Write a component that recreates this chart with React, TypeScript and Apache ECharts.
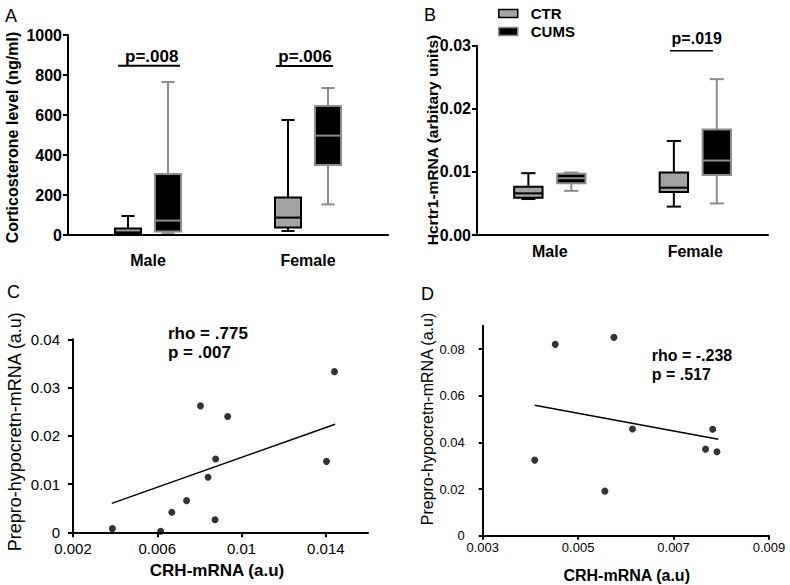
import React, { useEffect, useRef } from "react";
import * as echarts from "echarts";

const FONT = '"Liberation Sans", Arial, Helvetica, sans-serif';

// ---- Data ----
const groups = ["Male", "Female"];
// [min, q1, median, q3, max]
const cortCTR = [
  [2, 5, 13, 32, 95],
  [20, 37, 87, 187, 575],
];
const cortCUMS = [
  [10, 17, 72, 305, 765],
  [153, 350, 497, 645, 735],
];
const hcrtCTR = [
  [0.0057, 0.0059, 0.0066, 0.00765, 0.0098],
  [0.0045, 0.0068, 0.0075, 0.0099, 0.0149],
];
const hcrtCUMS = [
  [0.007, 0.0082, 0.009, 0.0097, 0.0099],
  [0.005, 0.0095, 0.0118, 0.0167, 0.0247],
];
const cortTicks = [0, 200, 400, 600, 800, 1000];
const hcrtTicks = [0, 0.01, 0.02, 0.03];

const cX = [0.00387, 0.00616, 0.00669, 0.00739, 0.00805, 0.00841, 0.00877, 0.00874, 0.00934, 0.01403, 0.01441];
const cY = [0.00076, 0.0002, 0.00415, 0.00656, 0.0262, 0.0114, 0.0152, 0.0026, 0.024, 0.0147, 0.0333];
const cFitX = [0.00384, 0.01444];
const cFitY = [0.006, 0.0224];
const cXTicks = [0.002, 0.006, 0.01, 0.014];
const cYTicks = [0, 0.01, 0.02, 0.03, 0.04];

const dX = [0.00409, 0.00452, 0.00575, 0.00556, 0.00614, 0.00782, 0.00767, 0.00791];
const dY = [0.0324, 0.082, 0.085, 0.0191, 0.0457, 0.0456, 0.0371, 0.036];
const dFitX = [0.00409, 0.00794];
const dFitY = [0.0559, 0.0413];
const dXTicks = [0.003, 0.005, 0.007, 0.009];
const dYTicks = [0, 0.02, 0.04, 0.06, 0.08];

const GRAY = "#a3a3a3";
const DGRAY = "#8c8c8c";

function boxRender(offsetFrac: number, widthFrac: number, fill: string, stroke: string) {
  return (params: any, api: any) => {
    const cat = api.value(0);
    const band = api.size([1, 0])[0];
    const cx = api.coord([cat, api.value(3)])[0] + offsetFrac * band;
    const hw = (widthFrac * band) / 2;
    const cap = hw * 0.5;
    const y = (k: number) => api.coord([cat, api.value(k)])[1];
    const yMin = y(1), yQ1 = y(2), yMed = y(3), yQ3 = y(4), yMax = y(5);
    const ls = { stroke, lineWidth: 2 };
    return {
      type: "group",
      children: [
        { type: "line", shape: { x1: cx, y1: yMax, x2: cx, y2: yQ3 }, style: ls },
        { type: "line", shape: { x1: cx, y1: yQ1, x2: cx, y2: yMin }, style: ls },
        { type: "line", shape: { x1: cx - cap, y1: yMax, x2: cx + cap, y2: yMax }, style: ls },
        { type: "line", shape: { x1: cx - cap, y1: yMin, x2: cx + cap, y2: yMin }, style: ls },
        { type: "rect", shape: { x: cx - hw, y: yQ3, width: 2 * hw, height: yQ1 - yQ3 }, style: { fill, stroke, lineWidth: 2 } },
        { type: "line", shape: { x1: cx - hw, y1: yMed, x2: cx + hw, y2: yMed }, style: ls },
      ],
    };
  };
}

function boxData(arr: number[][]) {
  return arr.map((v, i) => [i, ...v]);
}

const axisLineStyle = { lineStyle: { color: "#000", width: 2 } };

function txt(text: string, x: number, y: number, size: number, weight: string, opts: any = {}) {
  return {
    type: "text",
    x,
    y,
    rotation: opts.rotation || 0,
    style: {
      text,
      fill: "#000",
      fontSize: size,
      fontWeight: weight,
      fontFamily: FONT,
      align: opts.align || "center",
      verticalAlign: "middle",
    },
  };
}
function hline(x1: number, x2: number, y: number, w = 2) {
  return { type: "line", shape: { x1, y1: y, x2, y2: y }, style: { stroke: "#000", lineWidth: w } };
}

export default function App() {
  const ref = useRef<HTMLDivElement>(null);
  useEffect(() => {
    if (!ref.current) return;
    const chart = echarts.init(ref.current, undefined, { renderer: "svg" });
    const catAxis = (gi: number, size: number, margin: number) => ({
      type: "category",
      gridIndex: gi,
      data: groups,
      axisLine: axisLineStyle,
      axisTick: { alignWithLabel: true, length: 5, lineStyle: { width: 2, color: "#000" } },
      axisLabel: { fontFamily: FONT, fontWeight: "bold", fontSize: size, color: "#000", margin },
      splitLine: { show: false },
    });
    const option: any = {
      animation: false,
      backgroundColor: "#fff",
      grid: [
        { left: 68, top: 35, width: 320, height: 200 },
        { left: 477, top: 45.7, width: 291, height: 189.3 },
        { left: 73, top: 339.3, width: 295, height: 193 },
        { left: 482.7, top: 325.7, width: 286.3, height: 210 },
      ],
      legend: {
        left: 498,
        top: 6,
        orient: "vertical",
        padding: 0,
        itemWidth: 19,
        itemHeight: 8,
        itemGap: 3,
        selectedMode: false,
        textStyle: { fontFamily: FONT, fontWeight: "bold", fontSize: 15, color: "#000", lineHeight: 15, padding: [0, 0, 0, 8] },
        data: [
          { name: "CTR", icon: "rect", itemStyle: { color: GRAY, borderColor: "#000", borderWidth: 1.5 } },
          { name: "CUMS", icon: "rect", itemStyle: { color: "#000", borderColor: DGRAY, borderWidth: 1.5 } },
        ],
      },
      xAxis: [
        catAxis(0, 16, 17),
        catAxis(1, 16, 8),
        {
          type: "value",
          gridIndex: 2,
          min: 0.002,
          max: 0.016,
          axisLine: axisLineStyle,
          axisTick: { customValues: cXTicks, length: 5, lineStyle: { width: 2, color: "#000" } },
          axisLabel: { customValues: cXTicks, fontFamily: FONT, fontSize: 15, color: "#000", margin: 9 },
          splitLine: { show: false },
        },
        {
          type: "value",
          gridIndex: 3,
          min: 0.003,
          max: 0.009,
          axisLine: axisLineStyle,
          axisTick: { customValues: dXTicks, length: 4, lineStyle: { width: 2, color: "#000" } },
          axisLabel: { customValues: dXTicks, fontFamily: FONT, fontSize: 13, color: "#000", margin: 5 },
          splitLine: { show: false },
        },
      ],
      yAxis: [
        {
          type: "value",
          gridIndex: 0,
          min: 0,
          max: 1000,
          axisLine: { show: true, ...axisLineStyle },
          axisTick: { show: true, customValues: cortTicks, length: 5, lineStyle: { width: 2, color: "#000" } },
          axisLabel: {
            customValues: cortTicks,
            fontFamily: FONT,
            fontWeight: "bold",
            fontSize: 16,
            color: "#000",
            margin: 6,
            formatter: (v: number) => String(v),
          },
          splitLine: { show: false },
        },
        {
          type: "value",
          gridIndex: 1,
          min: 0,
          max: 0.03,
          axisLine: { show: true, ...axisLineStyle },
          axisTick: { show: true, customValues: hcrtTicks, length: 5, lineStyle: { width: 2, color: "#000" } },
          axisLabel: {
            customValues: hcrtTicks,
            fontFamily: FONT,
            fontWeight: "bold",
            fontSize: 16,
            color: "#000",
            margin: 6,
            formatter: (v: number) => v.toFixed(2),
          },
          splitLine: { show: false },
        },
        {
          type: "value",
          gridIndex: 2,
          min: 0,
          max: 0.04,
          axisLine: { show: true, ...axisLineStyle },
          axisTick: { show: true, customValues: cYTicks, length: 5, lineStyle: { width: 2, color: "#000" } },
          axisLabel: { customValues: cYTicks, fontFamily: FONT, fontSize: 15, color: "#000", margin: 13 },
          splitLine: { show: false },
        },
        {
          type: "value",
          gridIndex: 3,
          min: 0,
          max: 0.09,
          axisLine: { show: true, ...axisLineStyle },
          axisTick: { show: true, customValues: dYTicks, length: 4, lineStyle: { width: 2, color: "#000" } },
          axisLabel: { customValues: dYTicks, fontFamily: FONT, fontSize: 13, color: "#000", margin: 18 },
          splitLine: { show: false },
        },
      ],
      series: [
        {
          type: "custom",
          name: "CTR",
          xAxisIndex: 0,
          yAxisIndex: 0,
          renderItem: boxRender(-0.125, 0.1625, GRAY, "#000"),
          encode: { x: 0, y: [1, 2, 3, 4, 5] },
          data: boxData(cortCTR),
          itemStyle: { color: GRAY },
        },
        {
          type: "custom",
          name: "CUMS",
          xAxisIndex: 0,
          yAxisIndex: 0,
          renderItem: boxRender(0.125, 0.1625, "#000", DGRAY),
          encode: { x: 0, y: [1, 2, 3, 4, 5] },
          data: boxData(cortCUMS),
          itemStyle: { color: "#000" },
        },
        {
          type: "custom",
          name: "CTR",
          xAxisIndex: 1,
          yAxisIndex: 1,
          renderItem: boxRender(-0.147, 0.195, GRAY, "#000"),
          encode: { x: 0, y: [1, 2, 3, 4, 5] },
          data: boxData(hcrtCTR),
          itemStyle: { color: GRAY },
        },
        {
          type: "custom",
          name: "CUMS",
          xAxisIndex: 1,
          yAxisIndex: 1,
          renderItem: boxRender(0.148, 0.195, "#000", DGRAY),
          encode: { x: 0, y: [1, 2, 3, 4, 5] },
          data: boxData(hcrtCUMS),
          itemStyle: { color: "#000" },
        },
        {
          type: "scatter",
          xAxisIndex: 2,
          yAxisIndex: 2,
          symbol: "circle",
          symbolSize: 7,
          itemStyle: { color: "#000" },
          data: cX.map((x, i) => [x, cY[i]]),
        },
        {
          type: "line",
          xAxisIndex: 2,
          yAxisIndex: 2,
          showSymbol: false,
          symbol: "none",
          lineStyle: { color: "#000", width: 1.5 },
          data: cFitX.map((x, i) => [x, cFitY[i]]),
        },
        {
          type: "scatter",
          xAxisIndex: 3,
          yAxisIndex: 3,
          symbol: "circle",
          symbolSize: 7,
          itemStyle: { color: "#000" },
          data: dX.map((x, i) => [x, dY[i]]),
        },
        {
          type: "line",
          xAxisIndex: 3,
          yAxisIndex: 3,
          showSymbol: false,
          symbol: "none",
          lineStyle: { color: "#000", width: 1.5 },
          data: dFitX.map((x, i) => [x, dFitY[i]]),
        },
      ],
      graphic: [
        txt("A", 11, 16, 18, "normal"),
        txt("B", 430, 15, 18, "normal"),
        txt("C", 13.5, 291.5, 18, "normal"),
        txt("D", 427.5, 293.7, 18, "normal"),
        txt("Corticosterone level (ng/ml)", 12.5, 137.5, 16, "bold", { rotation: Math.PI / 2 }),
        txt("Hcrtr1-mRNA (arbitary units)", 432, 140, 15.5, "bold", { rotation: Math.PI / 2 }),
        txt("Prepro-hypocretn-mRNA (a.u)", 15, 431.7, 18, "normal", { rotation: Math.PI / 2 }),
        txt("Prepro-hypocretn-mRNA (a.u)", 427.5, 419, 16, "normal", { rotation: Math.PI / 2 }),
        txt("CRH-mRNA (a.u)", 217, 570, 17, "bold"),
        txt("CRH-mRNA (a.u)", 626.7, 575, 16, "bold"),
        txt("p=.008", 151.7, 56, 17, "bold"),
        hline(118, 180, 65.7),
        txt("p=.006", 305, 56, 17, "bold"),
        hline(276, 333, 66),
        txt("p=.019", 696.7, 38.3, 16, "bold"),
        hline(670, 713, 50.7, 1.5),
        txt("rho = .775", 168, 333.5, 17, "bold", { align: "left" }),
        txt("p = .007", 168, 352, 17, "bold", { align: "left" }),
        txt("rho = -.238", 651.7, 355.5, 16, "bold", { align: "left" }),
        txt("p = .517", 651.7, 374, 16, "bold", { align: "left" }),
      ],
    };
    chart.setOption(option);
    return () => chart.dispose();
  }, []);
  return (
    <div
      ref={ref}
      style={{ position: "absolute", left: 0, top: 0, width: 790, height: 585, background: "#fff" }}
    />
  );
}
